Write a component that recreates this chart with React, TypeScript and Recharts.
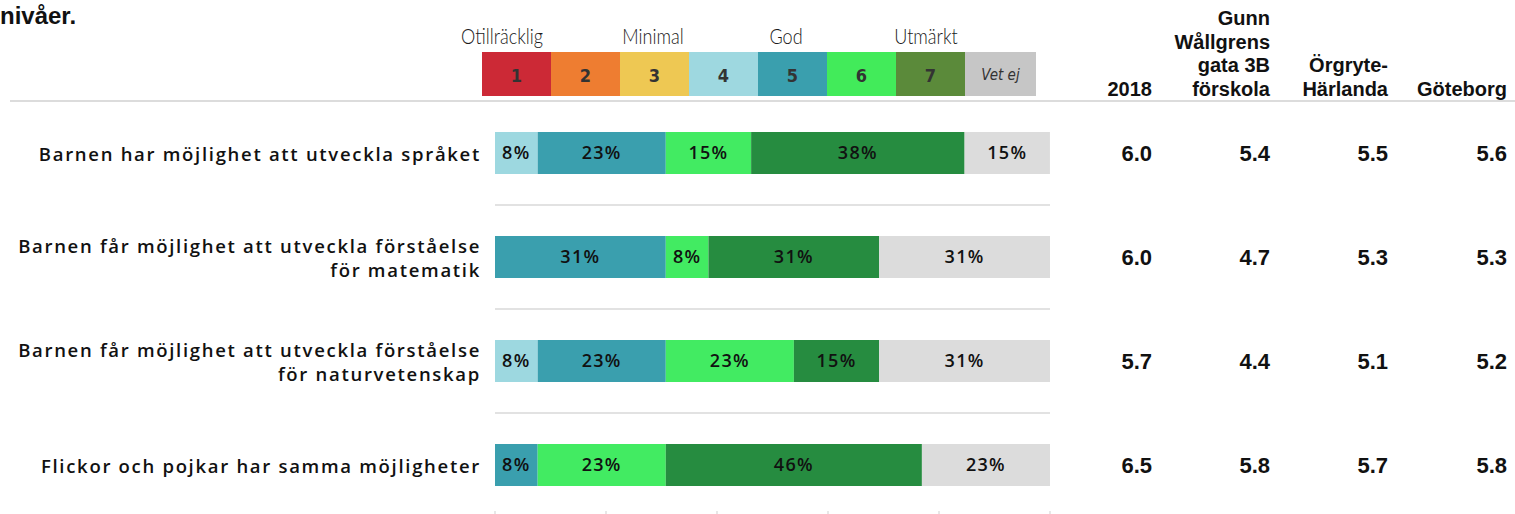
import React from 'react';
import {
    BarChart,
    Bar,
    XAxis,
    YAxis,
    CartesianGrid,
    LabelList,
} from 'recharts';

// questions (y categories)
const questions = [
    ['Barnen har möjlighet att utveckla språket'],
    ['Barnen får möjlighet att utveckla förståelse', 'för matematik'],
    ['Barnen får möjlighet att utveckla förståelse', 'för naturvetenskap'],
    ['Flickor och pojkar har samma möjligheter'],
];

// share of answers per grade (%), 13 respondents
const grade1 = [0, 0, 0, 0];
const grade2 = [0, 0, 0, 0];
const grade3 = [0, 0, 0, 0];
const grade4 = [7.69, 0, 7.69, 0];
const grade5 = [23.08, 30.77, 23.08, 7.69];
const grade6 = [15.38, 7.69, 23.08, 23.08];
const grade7 = [38.46, 30.77, 15.38, 46.15];
const vetEj = [15.38, 30.77, 30.77, 23.08];

// mean values per comparison column
const columnHeaders = [['2018'], ['Gunn', 'Wållgrens', 'gata 3B', 'förskola'], ['Örgryte-', 'Härlanda'], ['Göteborg']];
const mean2018 = [6.0, 6.0, 5.7, 6.5];
const meanSchool = [5.4, 4.7, 4.4, 5.8];
const meanDistrict = [5.5, 5.3, 5.1, 5.7];
const meanCity = [5.6, 5.3, 5.2, 5.8];

// legend
const legendKeys = ['1', '2', '3', '4', '5', '6', '7', 'Vet ej'];
const legendColors = ['#CC2936', '#EE7D31', '#EEC853', '#9ED8E0', '#3A9FAE', '#42EB5A', '#5B8A3A', '#C6C6C6'];
const scaleLabels = ['Otillräcklig', 'Minimal', 'God', 'Utmärkt'];

const xTicks = [0, 20, 40, 60, 80, 100];

const series = [
    { key: 'g1', values: grade1, color: '#CC2936' },
    { key: 'g2', values: grade2, color: '#EE7D31' },
    { key: 'g3', values: grade3, color: '#EEC853' },
    { key: 'g4', values: grade4, color: '#9DD8E0' },
    { key: 'g5', values: grade5, color: '#3A9FAE' },
    { key: 'g6', values: grade6, color: '#42EB62' },
    { key: 'g7', values: grade7, color: '#268C40' },
    { key: 'vet', values: vetEj, color: '#DCDCDC' },
];

const data = questions.map((q, i) => {
    const row: any = { name: q.join(' ') };
    series.forEach(s => { row[s.key] = s.values[i]; });
    return row;
});
const means = [mean2018, meanSchool, meanDistrict, meanCity];

const labelFont = "'Open Sans', Roboto, sans-serif";
const headFont = "'Liberation Sans', Arial, sans-serif";
const narrowFont = "'Liberation Sans Narrow', 'DejaVu Sans Condensed', sans-serif";
const lightFont = "Lato, 'Open Sans', sans-serif";

const QuestionTick = ({ y, payload }: any) => {
    const idx = data.findIndex(d => d.name === payload.value);
    const lines = questions[idx] || [payload.value];
    const lh = 24;
    const start = y - ((lines.length - 1) * lh) / 2;
    return (
        <text x={481} y={start} textAnchor="end" dominantBaseline="central"
            fontFamily={labelFont} fontWeight={600} fontSize={18.5} letterSpacing={1.7} fill="#111">
            {lines.map((l, k) => (
                <tspan key={k} x={481} y={start + k * lh}>{l}</tspan>
            ))}
        </text>
    );
};

const colRight = [1152, 1270, 1388, 1507];

const MeanTick = ({ y, payload }: any) => {
    const idx = data.findIndex(d => d.name === payload.value);
    return (
        <g>
            {means.map((m, k) => (
                <text key={k} x={colRight[k]} y={y} textAnchor="end" dominantBaseline="central"
                    fontFamily={headFont} fontWeight={700} fontSize={22} fill="#111">
                    {m[idx].toFixed(1)}
                </text>
            ))}
        </g>
    );
};

const pct = (v: any) => (v ? `${Math.round(v)}%` : '');

export default function App() {
    return (
        <div style={{ position: 'absolute', left: 0, top: 0, width: 1515, height: 514, overflow: 'hidden', background: '#fff' }}>
            <div style={{ position: 'absolute', left: 0, top: 2, fontFamily: headFont, fontWeight: 700, fontSize: 24, color: '#111' }}>
                nivåer.
            </div>

            {scaleLabels.map((t, i) => (
                <div key={t} style={{
                    position: 'absolute', top: 22, left: [502, 653, 786, 926][i] - 60, width: 120, textAlign: 'center',
                    fontFamily: lightFont, fontWeight: 300, fontSize: 22, color: '#1a1a1a',
                    transform: 'scaleX(0.82)',
                }}>{t}</div>
            ))}
            <div style={{ position: 'absolute', left: 482, top: 52, display: 'flex', height: 44 }}>
                {legendKeys.map((k, i) => (
                    <div key={k} style={{
                        width: i === 7 ? 71 : 69, height: 44, background: legendColors[i],
                        display: 'flex', alignItems: 'center', justifyContent: 'center',
                        fontFamily: narrowFont, fontSize: i === 7 ? 15 : 18, fontWeight: i === 7 ? 400 : 700,
                        fontStyle: i === 7 ? 'italic' : 'normal', color: '#333', paddingTop: 2, boxSizing: 'border-box',
                    }}>{k}</div>
                ))}
            </div>

            {columnHeaders.map((lines, i) => (
                <div key={i} style={{
                    position: 'absolute', right: 1515 - colRight[i], bottom: 514 - 101, textAlign: 'right',
                    fontFamily: headFont, fontWeight: 700, fontSize: 20, lineHeight: '23.5px', color: '#111',
                }}>
                    {lines.map((l, k) => <div key={k}>{l}</div>)}
                </div>
            ))}

            <div style={{ position: 'absolute', left: 10, top: 100, width: 1505, height: 2, background: '#dcdcdc' }} />

            <div style={{ position: 'absolute', left: 0, top: 0 }}>
                <BarChart
                    width={1515}
                    height={517}
                    data={data}
                    layout="vertical"
                    margin={{ top: 101, right: 0, bottom: 0, left: 0 }}
                    barCategoryGap={0}
                >
                    <CartesianGrid
                        vertical={false}
                        stroke="#d9d9d9"
                        strokeWidth={1.5}
                        horizontalCoordinatesGenerator={({ offset }: any) =>
                            [1, 2, 3].map(i => offset.top + (offset.height * i) / questions.length)
                        }
                    />
                    <XAxis
                        type="number"
                        domain={[0, 100]}
                        allowDataOverflow
                        ticks={xTicks}
                        height={3}
                        mirror
                        axisLine={false}
                        tick={() => <g />}
                        tickLine={{ stroke: '#cfcfcf' }}
                        tickSize={6}
                    />
                    <YAxis
                        yAxisId="left"
                        type="category"
                        dataKey="name"
                        width={495}
                        axisLine={false}
                        tickLine={false}
                        tick={<QuestionTick />}
                        interval={0}
                    />
                    <YAxis
                        yAxisId="right"
                        orientation="right"
                        type="category"
                        dataKey="name"
                        width={465}
                        axisLine={false}
                        tickLine={false}
                        tick={<MeanTick />}
                        interval={0}
                    />
                    {series.map(s => (
                        <Bar key={s.key} yAxisId="left" dataKey={s.key} stackId="a" fill={s.color} barSize={42} isAnimationActive={false}>
                            <LabelList dataKey={s.key} position="center" formatter={pct}
                                style={{ fontFamily: labelFont, fontWeight: 600, fontSize: 18, letterSpacing: 1.3, fill: '#111' }} />
                        </Bar>
                    ))}
                </BarChart>
            </div>
        </div>
    );
}
